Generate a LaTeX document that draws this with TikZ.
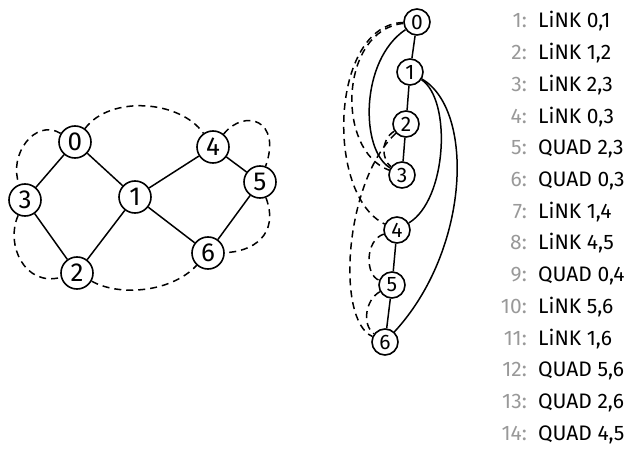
\documentclass[tikz,border=0pt]{standalone}
\usepackage{fontspec}
\setmainfont{Fira Sans}
\begin{document}
\begin{tikzpicture}[x=1pt,y=-1pt,
  nodeA/.style={circle,draw,line width=1.6pt,minimum size=32pt,inner sep=0pt,font=\fontsize{26}{26}\selectfont},
  nodeB/.style={circle,draw,line width=1.6pt,minimum size=26pt,inner sep=0pt,font=\fontsize{21}{21}\selectfont},
  edge/.style={line width=1.5pt},
  qedge/.style={line width=1.5pt,dash pattern=on 7pt off 5pt},
  num/.style={anchor=base east,text=black!40,inner sep=0pt,font=\fontsize{21}{21}\selectfont},
  op/.style={anchor=base west,inner sep=0pt,font=\fontsize{21}{21}\selectfont}]
\useasboundingbox (0,0) rectangle (634,449);
% left graph
\node[nodeA] (a0) at (75,142) {0};
\node[nodeA] (a3) at (25,200) {3};
\node[nodeA] (a1) at (135,197) {1};
\node[nodeA] (a4) at (213,147) {4};
\node[nodeA] (a5) at (260,182) {5};
\node[nodeA] (a6) at (208,253) {6};
\node[nodeA] (a2) at (77,273) {2};
\draw[edge] (a0) -- (a3);
\draw[edge] (a0) -- (a1);
\draw[edge] (a3) -- (a2);
\draw[edge] (a2) -- (a1);
\draw[edge] (a1) -- (a4);
\draw[edge] (a4) -- (a5);
\draw[edge] (a1) -- (a6);
\draw[edge] (a6) -- (a5);
\draw[qedge] (a0) .. controls (110,95) and (180,100) .. (a4);
\draw[qedge] (a0) .. controls (35,118) and (8,155) .. (a3);
\draw[qedge] (a3) .. controls (5,245) and (25,287) .. (a2);
\draw[qedge] (a2) .. controls (120,297) and (172,292) .. (a6);
\draw[qedge] (a4) .. controls (245,108) and (282,120) .. (a5);
\draw[qedge] (a5) .. controls (280,235) and (252,252) .. (a6);
% middle graph
\node[nodeB] (m0) at (417,22) {0};
\node[nodeB] (m1) at (410,72) {1};
\node[nodeB] (m2) at (406,124) {2};
\node[nodeB] (m3) at (402,175) {3};
\node[nodeB] (m4) at (397,230) {4};
\node[nodeB] (m5) at (392,285) {5};
\node[nodeB] (m6) at (385,342) {6};
\draw[edge] (m0) -- (m1);
\draw[edge] (m1) -- (m2);
\draw[edge] (m2) -- (m3);
\draw[edge] (m4) -- (m5);
\draw[edge] (m5) -- (m6);
\draw[edge] (m0) .. controls (360,60) and (360,150) .. (m3);
\draw[edge] (m1) .. controls (452,100) and (447,200) .. (m4);
\draw[edge] (m1) .. controls (475,110) and (470,250) .. (m6);
\draw[qedge] (m0) .. controls (340,30) and (335,150) .. (m3);
\draw[qedge] (m0) .. controls (330,25) and (325,195) .. (m4);
\draw[qedge] (m2) .. controls (380,140) and (382,160) .. (m3);
\draw[qedge] (m2) .. controls (345,180) and (335,320) .. (m6);
\draw[qedge] (m4) .. controls (365,240) and (365,275) .. (m5);
\draw[qedge] (m5) .. controls (365,300) and (362,325) .. (m6);
% list
\foreach \t [count=\i] in {{LiNK 0,1},{LiNK 1,2},{LiNK 2,3},{LiNK 0,3},{QUAD 2,3},{QUAD 0,3},{LiNK 1,4},{LiNK 4,5},{QUAD 0,4},{LiNK 5,6},{LiNK 1,6},{QUAD 5,6},{QUAD 2,6},{QUAD 4,5}}{
  \node[num] (num\i) at (527,{28+(\i-1)*31.7}) {\i:};
  \node[op] (op\i) at (538,{28+(\i-1)*31.7}) {\t};
}
\end{tikzpicture}
\end{document}
